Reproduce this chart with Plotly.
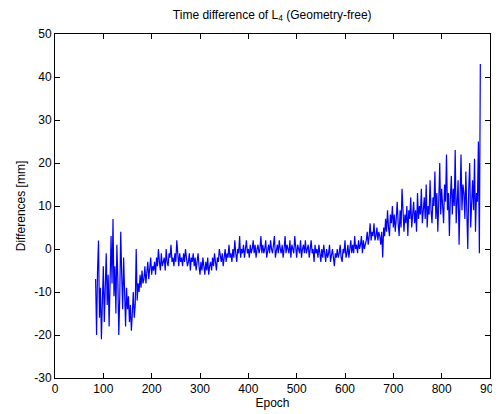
import plotly.graph_objects as go

epoch_start = 84
epoch_step = 2
differences = [
    -7, -20, -5, 2, -16, -9, -21, -12, -4, -17,
    -9, -1, -13, -6, -18, -10, 3, -8, 7, -11,
    -4, -15, 1, -7, -20, -11, 4, -6, -14, -2,
    -12, -18, -9, -14, -11, -17, -13, -19, -15, -10,
    -16, -13, 0, -12, -8, -10, -6, -9, -5, -8,
    -7, -4, -8, -6, -3, -7, -5, -2, -6, -4,
    -5, -3, -6, -2, -4, 0, -3, -5, -1, -4,
    -3, -2, -5, 0, -3, -4, -1, -2, 1, -3,
    -2, -4, -1, -3, 2, -2, -4, -1, -3, -2,
    -4, -1, -3, 0, -2, -4, -3, -1, -5, -2,
    -3, -1, -4, -2, -5, -3, -1, -4, -6, -3,
    -5, -2, -4, -6, -3, -5, -2, -6, -4, -3,
    -5, -2, -4, -1, -3, -5, -2, -3, 0, -2,
    -3, -1, -4, -2, 0, -3, -1, -2, 1, -2,
    -1, -3, 0, -2, 2, -1, -3, 0, -1, 3,
    -2, 0, -1, 1, -2, 0, 2, -1, 0, -2,
    1, -1, 0, 2, -1, 1, -2, 0, 1, -1,
    0, 3, -1, 1, -1, 0, 2, -2, 0, 1,
    -1, 2, 0, -1, 1, 3, -2, 0, 1, -1,
    2, 0, -1, 1, -2, 0, 3, -1, 1, 0,
    -1, 2, -2, 1, 0, -1, 3, 0, -2, 1,
    0, -1, 2, -2, 0, 1, -1, 2, -1, 0,
    1, -2, 0, 2, -1, 0, -3, 1, -1, 0,
    -2, 1, -1, -3, 0, -2, 1, -1, -3, 0,
    -2, -1, 1, -3, -1, 0, -2, -4, -1, -2,
    0, -2, -1, 1, -2, -3, 0, -1, 2, -2,
    -1, 1, -2, 0, 2, -1, 1, -1, 3, 0,
    1, -1, 2, 0, 1, 3, -1, 2, 0, 1,
    2, 4, 1, 3, 6, 2, 4, 3, 6, 2,
    3, 5, 2, 4, 3, 1, 4, -2, 5, 3,
    7, 4, 9, 5, 3, 8, 6, 10, 5, 8,
    4, 7, 11, 6, 3, 9, 5, 14, 7, 4,
    8, 6, 10, 3, 9, 7, 12, 5, 8, 11,
    6, 9, 4, 13, 7, 10, 8, 14, 6, 9,
    12, 7, 15, 5, 10, 8, 16, 9, 6, 12,
    10, 18, 7, 13, 4, 11, 20, 8, 14, 10,
    6, 15, 11, 22, 9, 13, 3, 12, 17, 8,
    14, 10, 23, 6, 12, 16, 1, 11, 22, 9,
    15, 13, 7, 18, 11, 0, 14, 20, 5, 12,
    16, 9, 21, 4, 13, 11, 25, -1, 43,
]
epochs = [epoch_start + epoch_step * i for i in range(len(differences))]

x_ticks = [0, 100, 200, 300, 400, 500, 600, 700, 800, 900]
y_ticks = [-30, -20, -10, 0, 10, 20, 30, 40, 50]
y_tick_labels = ["-30", "-20", "-10", "0", "10", "20", "30", "40", "50"]

FONT = "Liberation Sans, Arial"

fig = go.Figure(go.Scatter(x=epochs, y=differences, mode="lines",
                           line=dict(color="#0000ff", width=1.2)))

axis_common = dict(showgrid=False, zeroline=False, showline=True, linecolor="black",
                   linewidth=1, mirror="ticks", ticks="inside", ticklen=5,
                   tickcolor="black", automargin=False, ticklabeloverflow="allow",
                   tickfont=dict(family=FONT, size=12, color="black"))

# the page body adds an 8px margin, so the figure is sized to fit inside the 500x414 window
fig.update_layout(
    width=492, height=406,
    paper_bgcolor="white", plot_bgcolor="white",
    margin=dict(l=47, r=10, t=26, b=36),
    showlegend=False,
    title=dict(text="Time difference of L<sub>4</sub> (Geometry-free)", x=0.537, xanchor="center",
               y=0.984, yanchor="middle",
               font=dict(family=FONT, size=12, color="black")),
    xaxis=dict(range=[0, 900], tickvals=x_ticks, title=dict(text="Epoch", standoff=2,
               font=dict(family=FONT, size=12, color="black")), **axis_common),
    yaxis=dict(range=[-30, 50], tickvals=y_ticks, ticktext=y_tick_labels,
               title=dict(text="Differences [mm]", standoff=6,
               font=dict(family=FONT, size=12, color="black")), **axis_common),
)

fig.write_html("out.html")
